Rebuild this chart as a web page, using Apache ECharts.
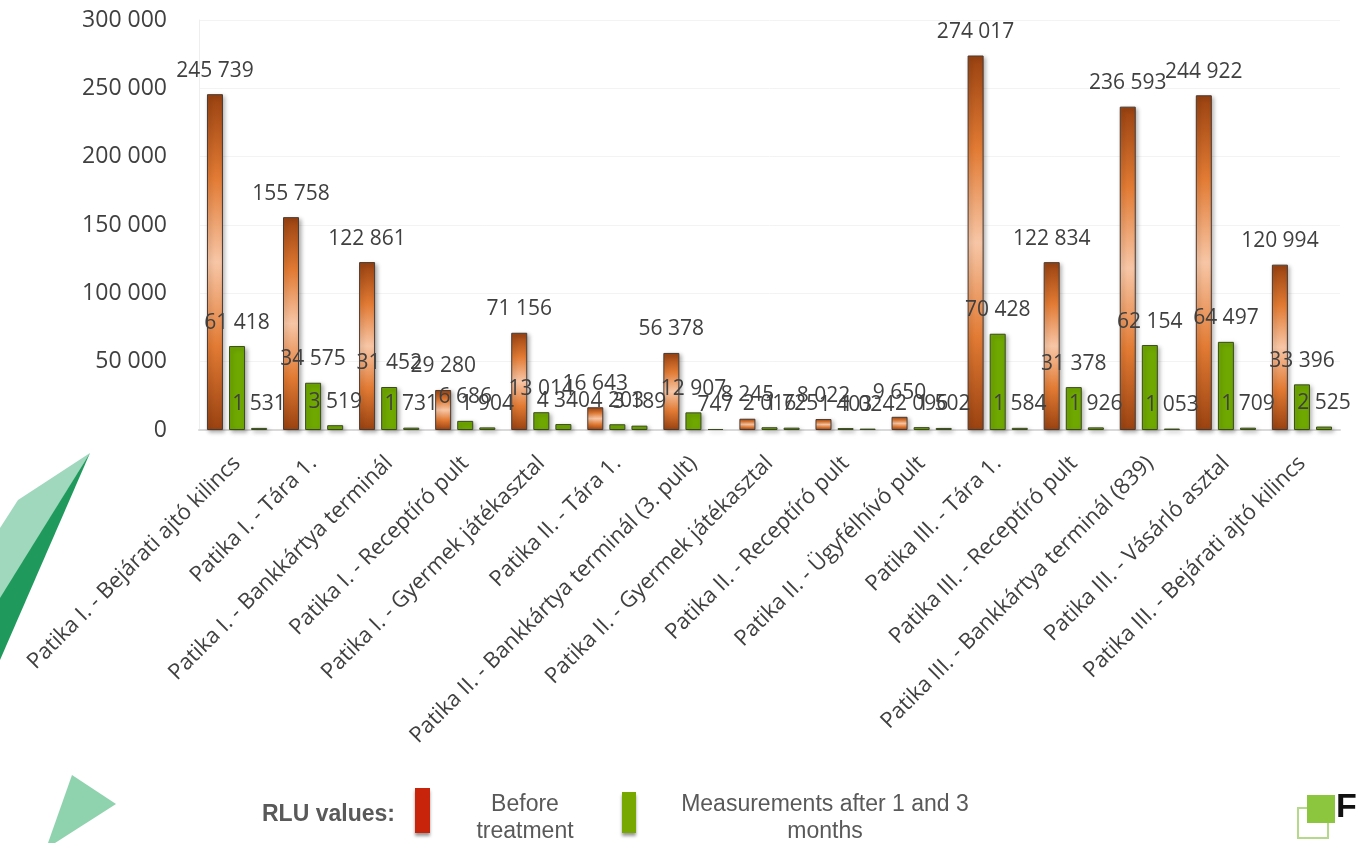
<!DOCTYPE html>
<html>
<head>
<meta charset="utf-8">
<script src="https://cdn.jsdelivr.net/npm/echarts@6/dist/echarts.min.js"></script>
<style>
  html, body { margin: 0; padding: 0; background: #fff; }
  #chart { width: 1357px; height: 843px; }
</style>
</head>
<body>
<div id="chart"></div>
<script>
// mérési helyek
const categories = [
  'Patika I. - Bejárati ajtó kilincs',
  'Patika I. - Tára 1.',
  'Patika I. - Bankkártya terminál',
  'Patika I. - Receptíró pult',
  'Patika I. - Gyermek játékasztal',
  'Patika II. - Tára 1.',
  'Patika II. - Bankkártya terminál (3. pult)',
  'Patika II. - Gyermek játékasztal',
  'Patika II. - Receptíró pult',
  'Patika II. - Ügyfélhívó pult',
  'Patika III. - Tára 1.',
  'Patika III. - Receptíró pult',
  'Patika III. - Bankkártya terminál (839)',
  'Patika III. - Vásárló asztal',
  'Patika III. - Bejárati ajtó kilincs'
]

// RLU értékek
const beforeTreatment = [245739, 155758, 122861, 29280, 71156, 16643, 56378, 8245, 8022, 9650, 274017, 122834, 236593, 244922, 120994]
const after1Month     = [61418, 34575, 31452, 6686, 13014, 4203, 12907, 2016, 1403, 2096, 70428, 31378, 62154, 64497, 33396]
const after3Months    = [1531, 3519, 1731, 1904, 4340, 3189, 747, 1725, 1024, 1502, 1584, 1926, 1053, 1709, 2525]

const yTicks = [0, 50000, 100000, 150000, 200000, 250000, 300000]

const fmt = v => String(v).replace(/\B(?=(\d{3})+(?!\d))/g, ' ')

const LABEL = { show: true, position: 'top', distance: 13, color: '#404040', fontSize: 21, fontFamily: 'Open Sans', formatter: p => fmt(p.value) }
const SHADOW = { shadowBlur: 4, shadowOffsetX: 2, shadowOffsetY: 2, shadowColor: 'rgba(0,0,0,0.3)' }

const ORANGE = new echarts.graphic.LinearGradient(0, 0, 0, 1, [
  { offset: 0, color: '#9a4211' },
  { offset: 0.25, color: '#e27b34' },
  { offset: 0.5, color: '#f7c6a6' },
  { offset: 0.75, color: '#e27b34' },
  { offset: 1, color: '#9a4211' }
])

const chart = echarts.init(document.getElementById('chart'))

chart.setOption({
  backgroundColor: '#fff',
  animation: false,
  grid: { left: 199, right: 17, top: 20, bottom: 413 },
  xAxis: {
    type: 'category',
    data: categories,
    axisLine: { lineStyle: { color: '#d9d9d9', width: 2 } },
    axisTick: { show: false },
    axisLabel: { rotate: 45, interval: 0, margin: 30, color: '#404040', fontSize: 22, fontFamily: 'Open Sans' }
  },
  yAxis: {
    type: 'value',
    min: yTicks[0], max: yTicks[yTicks.length - 1], interval: 50000,
    axisLine: { show: true, lineStyle: { color: '#eeeeee' } },
    axisTick: { show: false },
    axisLabel: { margin: 32, color: '#404040', fontSize: 23, fontFamily: 'Open Sans', formatter: fmt },
    splitLine: { lineStyle: { color: '#f3f3f3' } }
  },
  series: [
    {
      name: 'Before treatment', type: 'bar', barWidth: 16, barGap: '38%',
      itemStyle: { color: ORANGE, borderColor: '#4a3a30', borderWidth: 1, ...SHADOW },
      label: LABEL, data: beforeTreatment
    },
    {
      name: 'After 1 month', type: 'bar', barWidth: 16, barGap: '38%',
      itemStyle: { color: '#6fa800', borderColor: '#3b4a20', borderWidth: 1, ...SHADOW },
      label: LABEL, data: after1Month
    },
    {
      name: 'After 3 months', type: 'bar', barWidth: 16, barGap: '38%',
      itemStyle: { color: '#6fa800', borderColor: '#3b4a20', borderWidth: 1, ...SHADOW },
      label: LABEL, data: after3Months
    }
  ],
  graphic: [
    // háttér díszítés bal oldalon
    { type: 'polygon', silent: true, z: -1, shape: { points: [[90, 453], [18, 500], [0, 528], [0, 600]] }, style: { fill: '#9fd8bd' } },
    { type: 'polygon', silent: true, z: -1, shape: { points: [[90, 453], [0, 598], [0, 660]] }, style: { fill: '#1f9a5c' } },
    { type: 'polygon', silent: true, z: -1, shape: { points: [[72, 775], [116, 804], [55, 843], [48, 843]] }, style: { fill: '#8fd2ae' } },
    // jelmagyarázat
    { type: 'text', left: 262, top: 803, style: { text: 'RLU values:', fill: '#595959', font: 'bold 23px "Liberation Sans", Arial' } },
    { type: 'rect', shape: { x: 415, y: 788, width: 15, height: 45 }, style: { fill: '#c8230b', shadowBlur: 3, shadowOffsetY: 3, shadowColor: 'rgba(0,0,0,0.4)' } },
    { type: 'text', x: 525, y: 791, style: { text: 'Before\ntreatment', align: 'center', fill: '#595959', font: '23px "Liberation Sans", Arial', lineHeight: 27 } },
    { type: 'rect', shape: { x: 622, y: 792, width: 14, height: 41 }, style: { fill: '#76a800', shadowBlur: 3, shadowOffsetY: 3, shadowColor: 'rgba(0,0,0,0.4)' } },
    { type: 'text', x: 825, y: 791, style: { text: 'Measurements after 1 and 3\nmonths', align: 'center', fill: '#595959', font: '23px "Liberation Sans", Arial', lineHeight: 27 } },
    // logó
    { type: 'rect', shape: { x: 1298, y: 808, width: 30, height: 30 }, style: { fill: 'none', stroke: '#b5d98a', lineWidth: 2 } },
    { type: 'rect', shape: { x: 1307, y: 795, width: 28, height: 28 }, style: { fill: '#8cc63f' } },
    { type: 'text', x: 1336, y: 791, style: { text: 'F', fill: '#111', font: 'bold 34px "Liberation Sans", Arial' } }
  ]
})
</script>
</body>
</html>
